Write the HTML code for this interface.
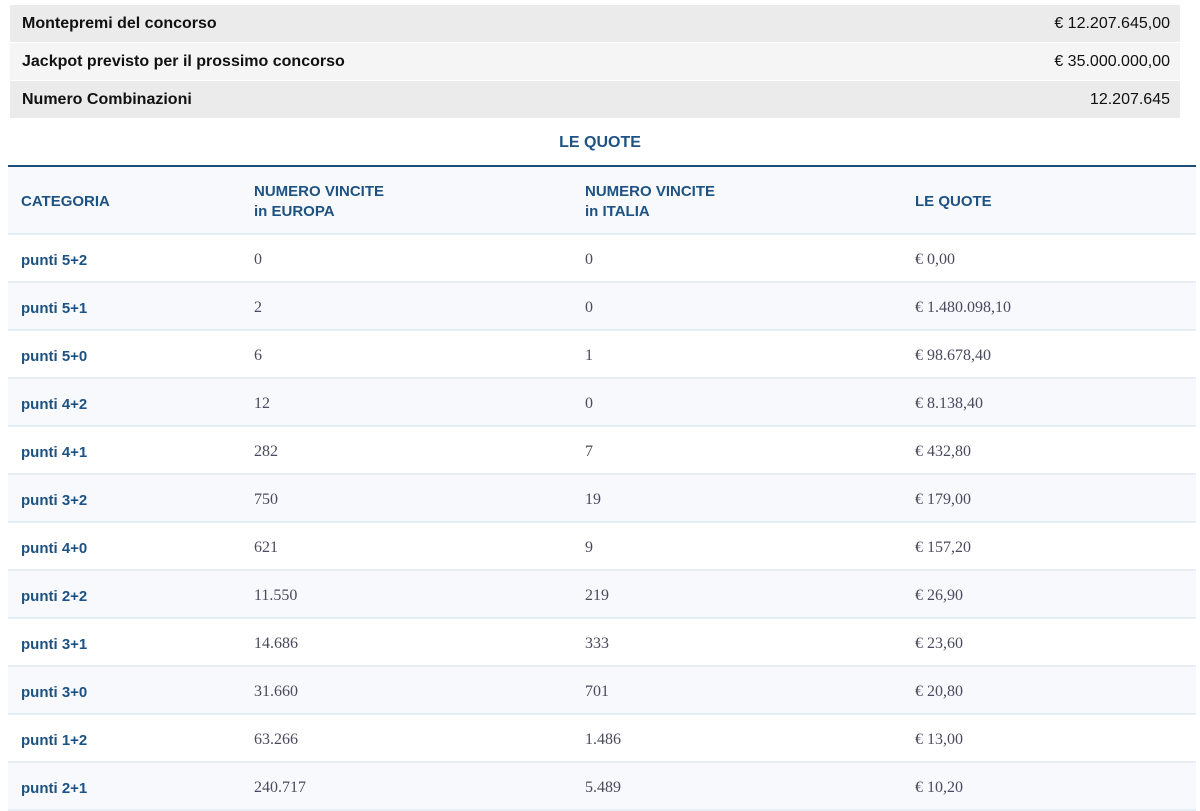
<!DOCTYPE html>
<html><head><meta charset="utf-8"><style>
body{margin:0;width:1200px;height:804px;overflow:hidden;background:#fff;font-family:"Liberation Sans",sans-serif}
.top{position:absolute;left:10px;width:1170px;height:37px;font-size:16px;font-weight:bold;color:#111;line-height:38px}
.top span{position:absolute;left:12px}
.top b{position:absolute;right:10px;font-weight:normal}
.title{position:absolute;top:134px;left:0;width:1200px;text-align:center;color:#1d5283;font-weight:bold;font-size:16px}
table{position:absolute;top:165px;left:8px;width:1188px;border-collapse:collapse;border-top:2px solid #1d4e78}
td,th{text-align:left;padding:0 0 0 13px;border-bottom:2px solid #e6edf5}
th{height:63px;background:#f7f9fc;color:#1d5283;font-size:15px;line-height:20px;padding-top:3px}
td{height:42px;font-family:"Liberation Serif",serif;color:#4a4a5e;font-size:16px;padding-top:4px}
td:first-child{font-family:"Liberation Sans",sans-serif;font-weight:bold;color:#1d5283;font-size:15px}
tbody tr:nth-child(even) td{background:#f7f9fc}
</style></head><body>
<div class="top" style="top:5px;background:#ebebeb"><span>Montepremi del concorso</span><b>€ 12.207.645,00</b></div>
<div class="top" style="top:43px;background:#f5f5f5"><span>Jackpot previsto per il prossimo concorso</span><b>€ 35.000.000,00</b></div>
<div class="top" style="top:81px;background:#ebebeb"><span>Numero Combinazioni</span><b>12.207.645</b></div>
<div class="title">LE QUOTE</div>
<table>
<colgroup><col style="width:233px"><col style="width:331px"><col style="width:330px"><col></colgroup>
<thead><tr><th>CATEGORIA</th><th>NUMERO VINCITE<br>in EUROPA</th><th>NUMERO VINCITE<br>in ITALIA</th><th>LE QUOTE</th></tr></thead>
<tbody>
<tr><td>punti 5+2</td><td>0</td><td>0</td><td>€ 0,00</td></tr>
<tr><td>punti 5+1</td><td>2</td><td>0</td><td>€ 1.480.098,10</td></tr>
<tr><td>punti 5+0</td><td>6</td><td>1</td><td>€ 98.678,40</td></tr>
<tr><td>punti 4+2</td><td>12</td><td>0</td><td>€ 8.138,40</td></tr>
<tr><td>punti 4+1</td><td>282</td><td>7</td><td>€ 432,80</td></tr>
<tr><td>punti 3+2</td><td>750</td><td>19</td><td>€ 179,00</td></tr>
<tr><td>punti 4+0</td><td>621</td><td>9</td><td>€ 157,20</td></tr>
<tr><td>punti 2+2</td><td>11.550</td><td>219</td><td>€ 26,90</td></tr>
<tr><td>punti 3+1</td><td>14.686</td><td>333</td><td>€ 23,60</td></tr>
<tr><td>punti 3+0</td><td>31.660</td><td>701</td><td>€ 20,80</td></tr>
<tr><td>punti 1+2</td><td>63.266</td><td>1.486</td><td>€ 13,00</td></tr>
<tr><td>punti 2+1</td><td>240.717</td><td>5.489</td><td>€ 10,20</td></tr>
</tbody></table>
</body></html>
